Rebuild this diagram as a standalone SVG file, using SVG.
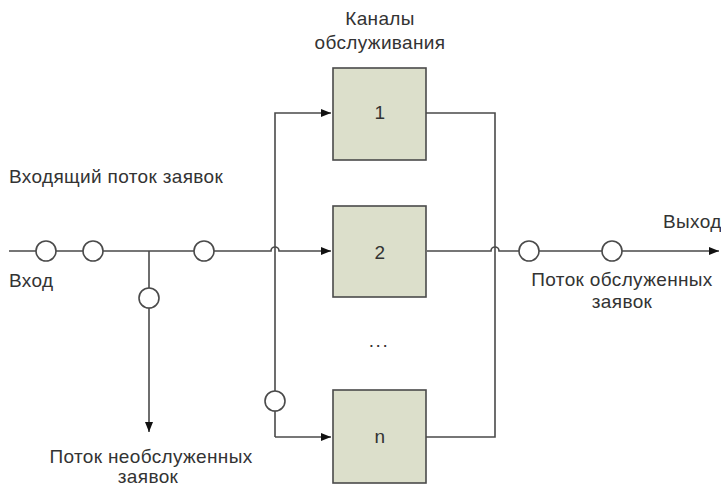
<svg xmlns="http://www.w3.org/2000/svg" width="721" height="486" viewBox="0 0 721 486">
<defs>
<marker id="arr" markerWidth="10" markerHeight="8" refX="10" refY="4" orient="auto" markerUnits="userSpaceOnUse">
<path d="M0,0 L10,4 L0,8 Z" fill="#111"/>
</marker>
<style>
.ln{fill:none;stroke:#4a4a4a;stroke-width:1.6}
.q{fill:#fff;stroke:#4a4a4a;stroke-width:1.6}
.box{fill:#dcdfcb;stroke:#4a4a4a;stroke-width:1.6}
text{font-family:"Liberation Sans",Arial,sans-serif;font-size:19px;letter-spacing:0.35px;fill:#333}
.c{text-anchor:middle}
</style>
</defs>
<rect width="721" height="486" fill="#fff"/>
<g id="connectors">
<path class="ln" d="M9,251 H271 a4,4 0 0 1 8,0 H331" marker-end="url(#arr)"/>
<path class="ln" d="M149,251 V432" marker-end="url(#arr)"/>
<path class="ln" d="M275,437 V113 H331" marker-end="url(#arr)"/>
<path class="ln" d="M275,437 H331" marker-end="url(#arr)"/>
<path class="ln" d="M427,251 H491 a4,4 0 0 1 8,0 H719" marker-end="url(#arr)"/>
<path class="ln" d="M426,113 H495 V437 H426"/>
</g>
<g id="queue">
<circle class="q" cx="46" cy="251" r="10"/>
<circle class="q" cx="93" cy="251" r="10"/>
<circle class="q" cx="204" cy="251" r="10"/>
<circle class="q" cx="149" cy="298" r="10"/>
<circle class="q" cx="275" cy="401" r="10"/>
<circle class="q" cx="529" cy="251" r="10"/>
<circle class="q" cx="612" cy="251" r="10"/>
</g>
<g id="ch1"><rect class="box" x="333" y="68" width="93" height="92"/><text class="c" x="380" y="119">1</text></g>
<g id="ch2"><rect class="box" x="333" y="206" width="93" height="91"/><text class="c" x="380" y="259">2</text></g>
<g id="chn"><rect class="box" x="333" y="390" width="93" height="93"/><text class="c" x="380" y="443">n</text></g>
<g id="labels">
<text class="c" x="380" y="25">Каналы</text>
<text class="c" x="380" y="49">обслуживания</text>
<text x="9" y="183">Входящий поток заявок</text>
<text x="9" y="287">Вход</text>
<text x="663" y="228">Выход</text>
<text class="c" x="622" y="286">Поток обслуженных</text>
<text class="c" x="622" y="308">заявок</text>
<text class="c" x="151" y="463">Поток необслуженных</text>
<text class="c" x="148" y="483">заявок</text>
<text class="c" x="379" y="347" style="letter-spacing:1.5px">...</text>
</g>
</svg>
